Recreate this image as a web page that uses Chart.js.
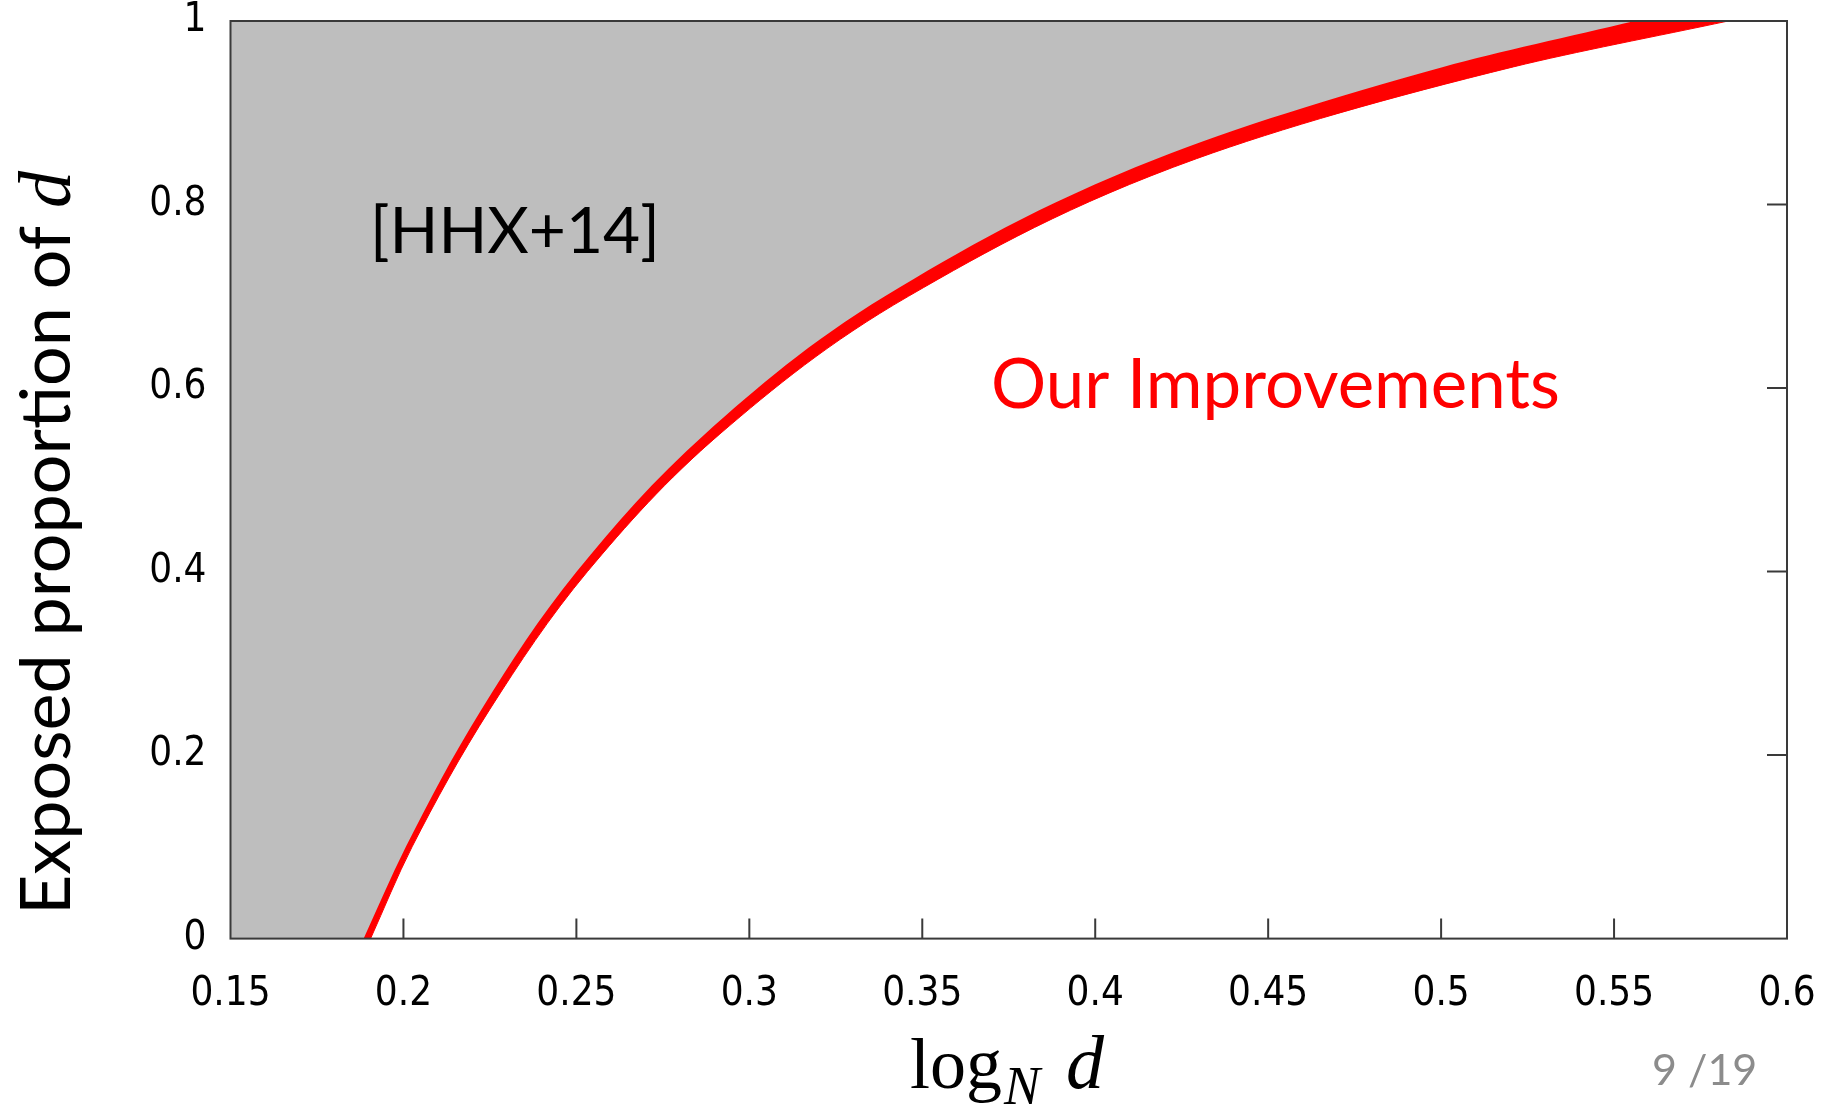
<!DOCTYPE html>
<html>
<head>
<meta charset="utf-8">
<script src="https://cdn.jsdelivr.net/npm/chart.js@4.4.1/dist/chart.umd.min.js"></script>
<style>
  html, body { margin: 0; padding: 0; background: #fff; }
  canvas { display: block; }
</style>
</head>
<body>
<canvas id="chart" width="1835" height="1113" style="width:1835px;height:1113px"></canvas>
<script>
// Werte (x = log_N d an der jeweiligen Höhe)
const yLevels = [0, 0.1, 0.25, 0.4, 0.55, 0.7, 0.85, 0.95, 1];
const xHHX   = [0.1885, 0.2007, 0.2226, 0.2501, 0.2872, 0.3392, 0.4178, 0.5006, 0.556];
const xOurs  = [0.1905, 0.2025, 0.2250, 0.2532, 0.2915, 0.3460, 0.4293, 0.5209, 0.583];

const xTicks = [0.15, 0.2, 0.25, 0.3, 0.35, 0.4, 0.45, 0.5, 0.55, 0.6];
const yTicks = [0, 0.2, 0.4, 0.6, 0.8, 1];

const fmt = v => String(+v.toFixed(2));
const tickFont = { family: '"Liberation Sans Narrow", "DejaVu Sans Condensed", sans-serif', size: 40 };

// Rahmen, Ticks nach innen und Texte
const framePlugin = {
  id: 'frame',
  afterDatasetsDraw(chart) {
    const { ctx, chartArea: a, scales } = chart;
    ctx.save();
    ctx.strokeStyle = '#3a3a3a';
    ctx.lineWidth = 2;
    ctx.beginPath();
    xTicks.slice(1, -1).forEach(v => {
      const px = scales.x.getPixelForValue(v);
      ctx.moveTo(px, a.bottom);
      ctx.lineTo(px, a.bottom - 20);
    });
    yTicks.slice(1, -1).forEach(v => {
      const py = scales.y.getPixelForValue(v);
      ctx.moveTo(a.right, py);
      ctx.lineTo(a.right - 20, py);
    });
    ctx.stroke();
    ctx.strokeRect(a.left, a.top, a.right - a.left, a.bottom - a.top);
    ctx.restore();
  },
  afterDraw(chart) {
    const { ctx } = chart;
    ctx.save();
    ctx.textBaseline = 'alphabetic';

    // Annotationen im Plot
    ctx.fillStyle = '#000';
    ctx.font = '64px Lato';
    ctx.fillText('[HHX+14]', 370, 253);
    ctx.fillStyle = '#ff0000';
    ctx.font = '69px Lato';
    ctx.fillText('Our Improvements', 991, 408);

    // x-Achsentitel: log_N d
    ctx.fillStyle = '#000';
    ctx.font = '72px "Liberation Serif"';
    ctx.fillText('log', 910, 1088);
    let w = ctx.measureText('log').width;
    ctx.font = 'italic 54px "Liberation Serif"';
    ctx.fillText('N', 910 + w + 2, 1104);
    ctx.font = 'italic 76px "Liberation Serif"';
    ctx.fillText('d', 1066, 1088);

    // y-Achsentitel, gedreht
    ctx.translate(70, 543);
    ctx.rotate(-Math.PI / 2);
    ctx.font = '70px Lato';
    const t1 = 'Exposed proportion of ';
    const w1 = ctx.measureText(t1).width;
    ctx.font = 'italic 74px "Liberation Serif"';
    const w2 = ctx.measureText('d').width;
    const x0 = -(w1 + w2) / 2;
    ctx.font = '70px Lato';
    ctx.fillText(t1, x0, 0);
    ctx.font = 'italic 74px "Liberation Serif"';
    ctx.fillText('d', x0 + w1, 0);
    ctx.setTransform(1, 0, 0, 1, 0, 0);

    // Seitenzahl
    ctx.fillStyle = '#8c8c8c';
    ctx.font = '43px Lato';
    ctx.fillText('9 /19', 1652, 1085);
    ctx.restore();
  }
};

const ptsHHX = yLevels.map((y, i) => ({ x: xHHX[i], y }));
const ptsOurs = yLevels.map((y, i) => ({ x: xOurs[i], y }));

const ctx = document.getElementById('chart').getContext('2d');
new Chart(ctx, {
  type: 'line',
  data: {
    datasets: [
      {
        label: '[HHX+14]',
        data: ptsHHX,
        fill: { value: 0.15 },
        backgroundColor: '#bebebe',
        borderColor: 'rgba(0,0,0,0)',
        borderWidth: 1,
        pointRadius: 0,
        cubicInterpolationMode: 'monotone'
      },
      {
        label: 'Our Improvements',
        data: ptsOurs,
        fill: { value: 0.15 },
        backgroundColor: '#ff0000',
        borderColor: '#ff0000',
        borderWidth: 1,
        pointRadius: 0,
        cubicInterpolationMode: 'monotone'
      }
    ]
  },
  options: {
    indexAxis: 'y',
    responsive: false,
    animation: false,
    layout: { padding: { top: 21, right: 48, left: 0, bottom: 0 } },
    plugins: {
      legend: { display: false },
      tooltip: { enabled: false }
    },
    scales: {
      x: {
        type: 'linear',
        position: 'bottom',
        min: 0.15,
        max: 0.6,
        afterBuildTicks: s => { s.ticks = xTicks.map(v => ({ value: v })); },
        afterFit: s => { s.height = 174.4; s.paddingLeft = 0; s.paddingRight = 0; },
        grid: { display: false, drawTicks: false },
        border: { display: false },
        ticks: {
          padding: 32,
          color: '#000',
          font: tickFont,
          callback: v => fmt(v),
          maxRotation: 0,
          autoSkip: false
        }
      },
      y: {
        type: 'linear',
        position: 'left',
        min: 0,
        max: 1,
        afterBuildTicks: s => { s.ticks = yTicks.map(v => ({ value: v })); },
        afterFit: s => { s.width = 230.5; s.paddingTop = 0; s.paddingBottom = 0; },
        grid: { display: false, drawTicks: false },
        border: { display: false },
        ticks: {
          padding: 24,
          color: '#000',
          font: tickFont,
          callback: v => fmt(v),
          autoSkip: false
        }
      }
    }
  },
  plugins: [framePlugin]
});
</script>
</body>
</html>
